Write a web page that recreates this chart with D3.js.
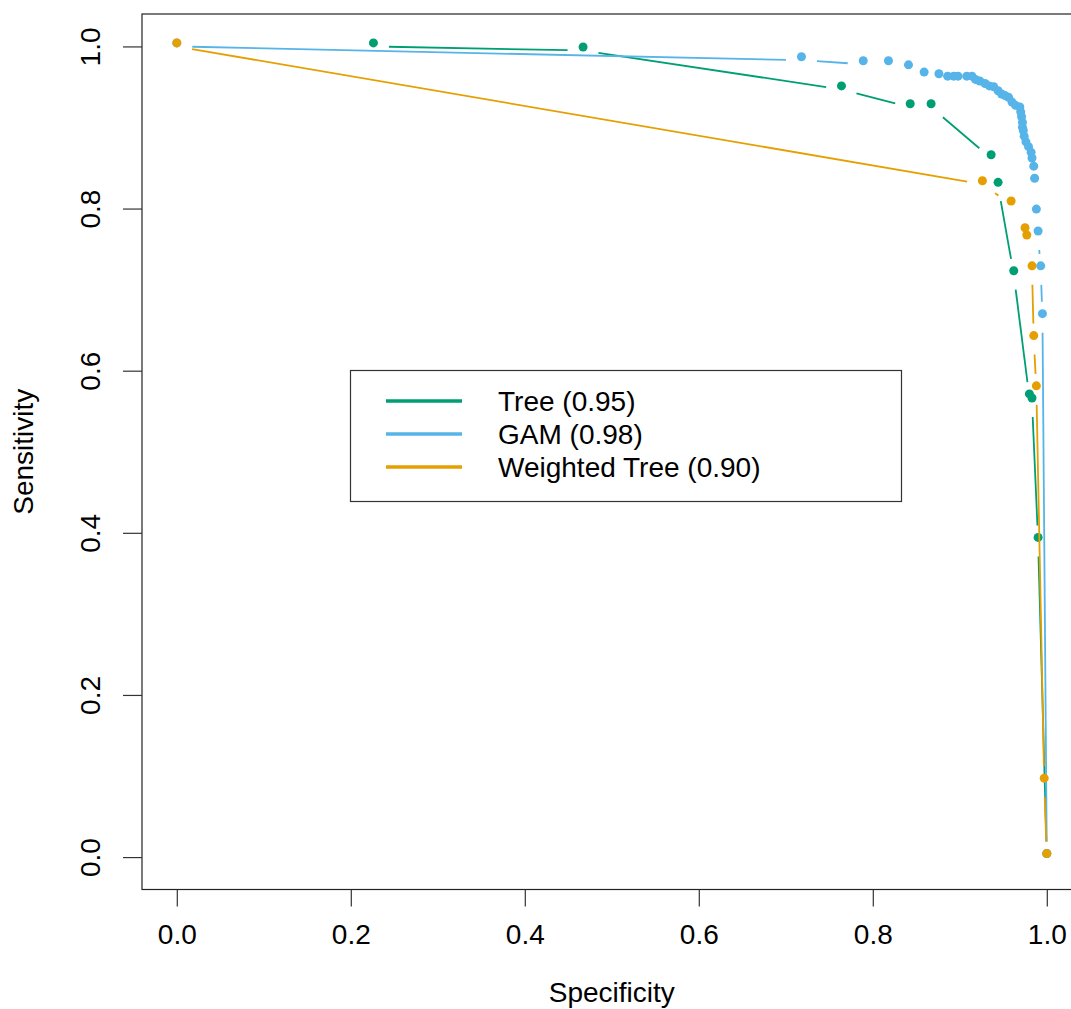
<!DOCTYPE html>
<html>
<head>
<meta charset="utf-8">
<script src="https://cdn.jsdelivr.net/npm/d3@7"></script>
<style>
  body { margin: 0; background: #fff; }
  text { font-family: "Liberation Sans", Arial, Helvetica, sans-serif; fill: #000; }
</style>
</head>
<body>
<div id="chart"></div>
<script>
// ROC curves
const treeSpec = [0.226, 0.467, 0.764, 0.843, 0.867, 0.936, 0.944, 0.962, 0.980, 0.983, 0.990, 1.000];
const treeSens = [1.000, 0.995, 0.947, 0.925, 0.925, 0.862, 0.828, 0.719, 0.567, 0.562, 0.390, 0.000];

const gamSpec = [0.000, 0.718, 0.789, 0.818, 0.841, 0.859, 0.876, 0.886, 0.893, 0.898, 0.908,
  0.914, 0.918, 0.923, 0.929, 0.934, 0.939, 0.944, 0.948, 0.952, 0.956, 0.960, 0.964, 0.969,
  0.970, 0.971, 0.972, 0.972, 0.973, 0.974, 0.976, 0.979, 0.982, 0.983, 0.985, 0.986, 0.988,
  0.990, 0.993, 0.995, 1.000];
const gamSens = [1.000, 0.983, 0.978, 0.978, 0.973, 0.964, 0.962, 0.959, 0.959, 0.959, 0.959,
  0.959, 0.955, 0.953, 0.950, 0.947, 0.946, 0.941, 0.937, 0.935, 0.933, 0.927, 0.923, 0.921,
  0.915, 0.909, 0.902, 0.896, 0.892, 0.885, 0.878, 0.872, 0.865, 0.858, 0.848, 0.833, 0.795,
  0.768, 0.725, 0.666, 0.000];

const wtreeSpec = [0.000, 0.926, 0.959, 0.975, 0.977, 0.983, 0.985, 0.988, 0.997, 1.000];
const wtreeSens = [1.000, 0.830, 0.805, 0.772, 0.763, 0.725, 0.639, 0.577, 0.093, 0.000];

const seriesNames = ["Tree (0.95)", "GAM (0.98)", "Weighted Tree (0.90)"];
const tickValues = [0, 0.2, 0.4, 0.6, 0.8, 1.0];

const colors = ["#009E73", "#56B4E9", "#E69F00"];

const rootWidth = 1071;
const rootHeight = 1009;
const margin = { top: 14, left: 142 };
const chartWidth = 939.6;
const chartHeight = 875.5;
const fontSize = 28;
const gap = 15.5;       // type="b" gap around points
const pointLift = 3.5;  // markers sit slightly above the line vertices

const root = d3
  .select("#chart")
  .append("svg")
  .attr("width", rootWidth)
  .attr("height", rootHeight);
const chart = root
  .append("g")
  .attr("transform", `translate(${margin.left}, ${margin.top})`);

const xScale = d3.scaleLinear().domain([-0.04, 1.04]).range([0, chartWidth]);
const yScale = d3.scaleLinear().domain([-0.04, 1.04]).range([chartHeight, 0]);

const series = [
  { spec: treeSpec, sens: treeSens },
  { spec: gamSpec, sens: gamSens },
  { spec: wtreeSpec, sens: wtreeSens },
];

series.forEach((s, i) => {
  const pts = s.spec.map((d, j) => [xScale(d), yScale(s.sens[j])]);
  const segs = [];
  for (let j = 1; j < pts.length; j++) {
    const [x1, y1] = pts[j - 1];
    const [x2, y2] = pts[j];
    const len = Math.hypot(x2 - x1, y2 - y1);
    if (len <= 2 * gap) continue;
    const ux = (x2 - x1) / len;
    const uy = (y2 - y1) / len;
    segs.push([x1 + ux * gap, y1 + uy * gap, x2 - ux * gap, y2 - uy * gap]);
  }
  const g = chart.append("g");
  g.selectAll("line")
    .data(segs)
    .join("line")
    .attr("x1", (d) => d[0])
    .attr("y1", (d) => d[1])
    .attr("x2", (d) => d[2])
    .attr("y2", (d) => d[3])
    .attr("stroke", colors[i])
    .attr("stroke-width", 1.8);
  g.selectAll("circle")
    .data(pts)
    .join("circle")
    .attr("cx", (d) => d[0])
    .attr("cy", (d) => d[1] - pointLift)
    .attr("r", 4.5)
    .attr("fill", colors[i]);
});

// box
chart
  .append("rect")
  .attr("x", 0)
  .attr("y", 0)
  .attr("width", chartWidth)
  .attr("height", chartHeight)
  .attr("fill", "none")
  .attr("stroke", "#222")
  .attr("stroke-width", 1.2);

const xAxis = chart
  .append("g")
  .attr("transform", `translate(0, ${chartHeight})`)
  .call(
    d3.axisBottom(xScale).tickValues(tickValues).tickSize(17).tickPadding(18)
      .tickFormat(d3.format(".1f"))
  );
xAxis.select(".domain").remove();
xAxis.selectAll("line").attr("stroke", "#333").attr("stroke-width", 1.2);
xAxis.selectAll("text")
  .attr("font-size", fontSize)
  .attr("font-family", null)
  .attr("fill", "#000");

const yAxis = chart
  .append("g")
  .call(
    d3.axisLeft(yScale).tickValues(tickValues).tickSize(19)
      .tickFormat(d3.format(".1f"))
  );
yAxis.select(".domain").remove();
yAxis.selectAll("line").attr("stroke", "#333").attr("stroke-width", 1.2);
yAxis.selectAll("text")
  .attr("font-size", fontSize)
  .attr("font-family", null)
  .attr("fill", "#000")
  .attr("text-anchor", "middle")
  .attr("transform", "rotate(-90)")
  .attr("x", 0)
  .attr("y", -42)
  .attr("dy", 0);

root.append("text")
  .attr("x", margin.left + chartWidth / 2)
  .attr("y", 1002)
  .attr("text-anchor", "middle")
  .attr("font-size", fontSize)
  .text("Specificity");

root.append("text")
  .attr("transform", `translate(33, ${margin.top + chartHeight / 2}) rotate(-90)`)
  .attr("text-anchor", "middle")
  .attr("font-size", fontSize)
  .text("Sensitivity");

// legend
const legend = root.append("g");
legend.append("rect")
  .attr("x", 350.5)
  .attr("y", 370.5)
  .attr("width", 551)
  .attr("height", 131)
  .attr("fill", "#fff")
  .attr("stroke", "#333")
  .attr("stroke-width", 1.2);
const rows = legend.selectAll("g.row")
  .data(seriesNames)
  .join("g")
  .attr("class", "row")
  .attr("transform", (d, i) => `translate(0, ${401 + i * 33})`);
rows.append("line")
  .attr("x1", 386)
  .attr("x2", 462)
  .attr("stroke", (d, i) => colors[i])
  .attr("stroke-width", 3.5);
rows.append("text")
  .attr("x", 498)
  .attr("dy", "0.36em")
  .attr("font-size", fontSize)
  .text((d) => d);
</script>
</body>
</html>
